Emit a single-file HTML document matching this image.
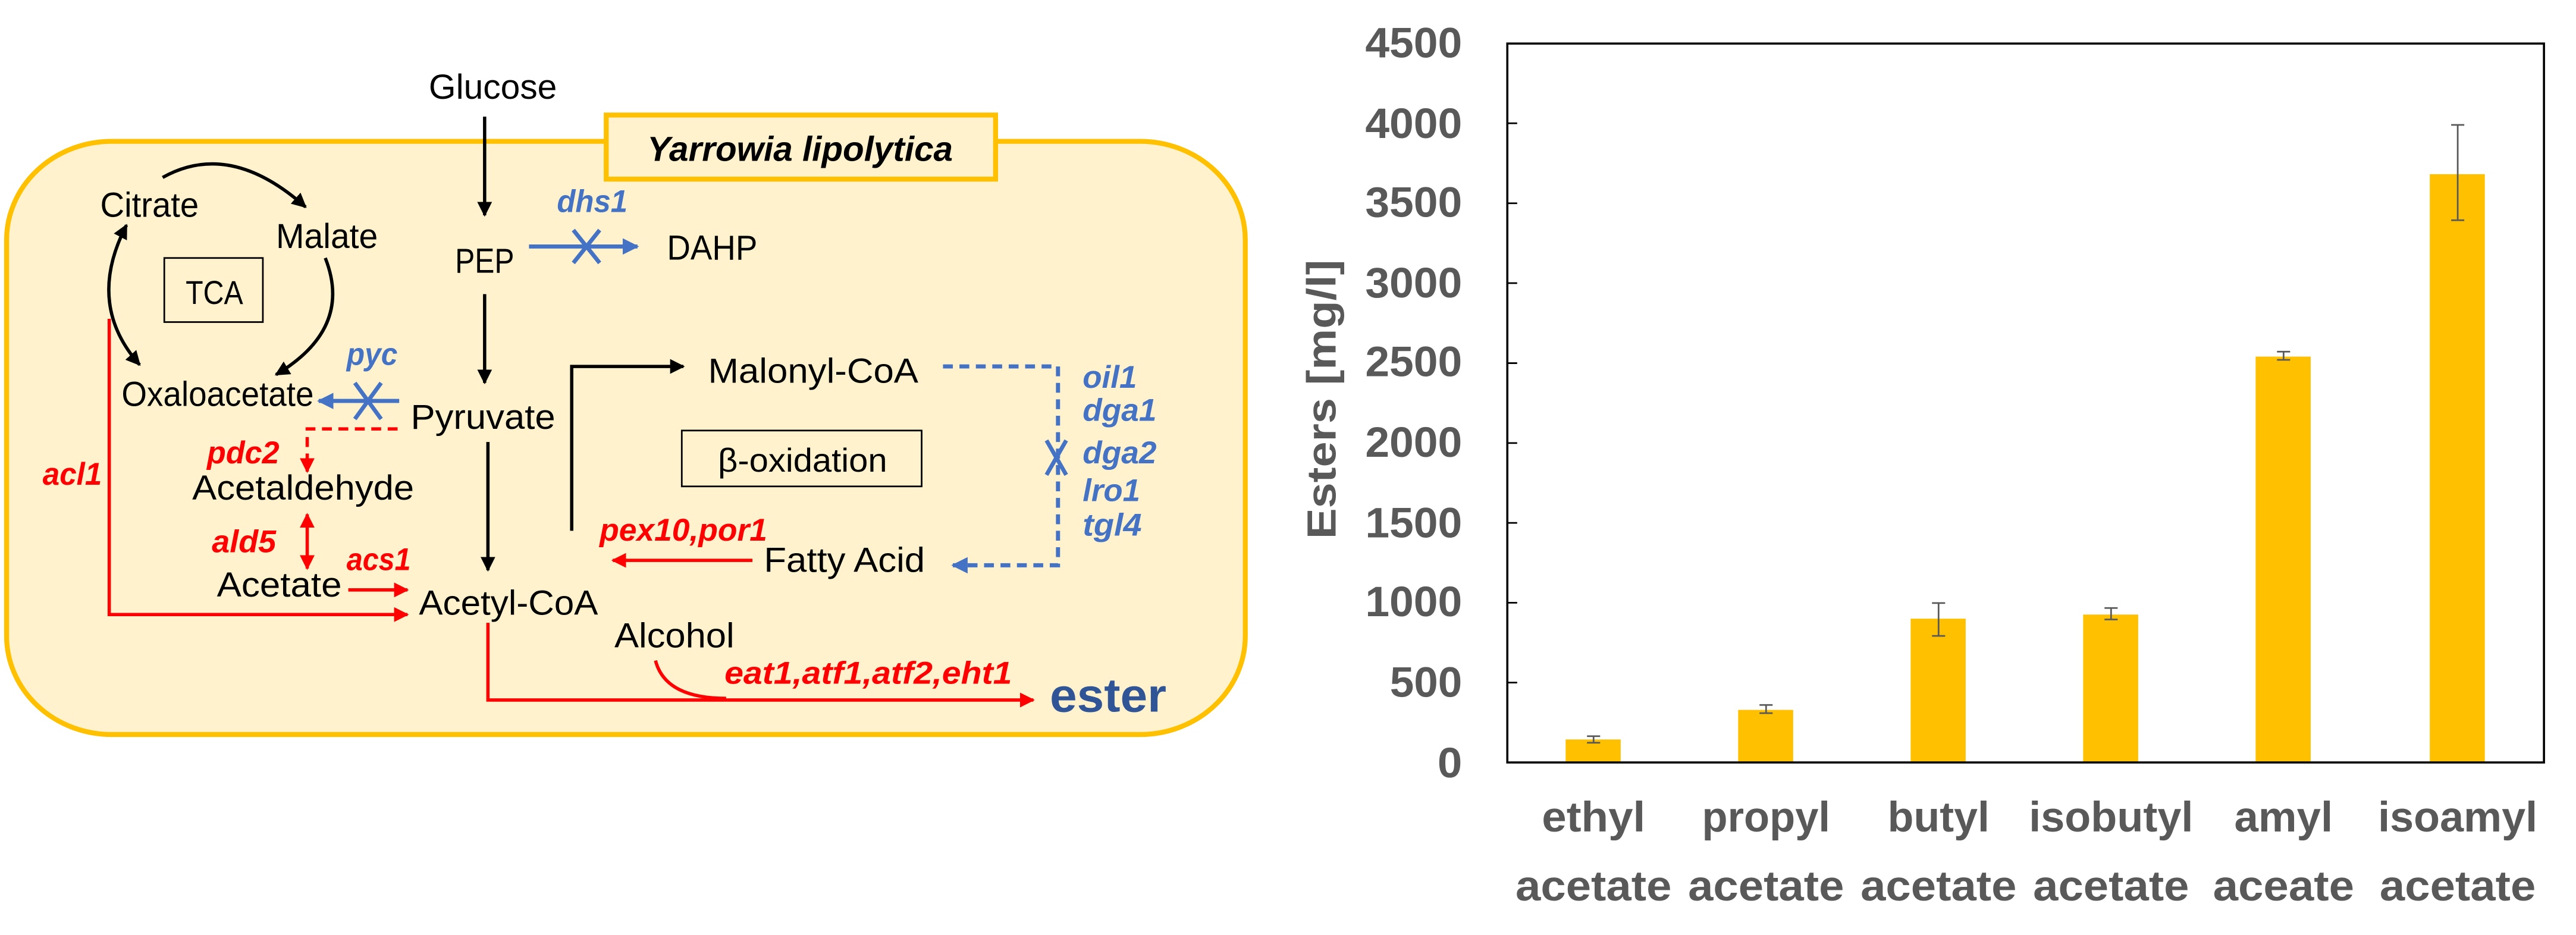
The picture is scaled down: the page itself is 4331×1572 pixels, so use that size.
<!DOCTYPE html>
<html><head><meta charset="utf-8"><style>html,body{margin:0;padding:0;background:#fff}svg{display:block}</style></head>
<body>
<svg width="4331" height="1572" viewBox="0 0 1568 569" preserveAspectRatio="none" xmlns="http://www.w3.org/2000/svg" font-family="Liberation Sans, sans-serif">
<defs>
<marker id="ak" viewBox="0 0 10 10" refX="9" refY="5" markerWidth="4.5" markerHeight="4.5" orient="auto-start-reverse"><path d="M0,0L10,5L0,10z" fill="#000"/></marker>
<marker id="ar" viewBox="0 0 10 10" refX="9" refY="5" markerWidth="4.5" markerHeight="4.5" orient="auto-start-reverse"><path d="M0,0L10,5L0,10z" fill="#f00"/></marker>
<marker id="ab" viewBox="0 0 10 10" refX="9" refY="5" markerWidth="4" markerHeight="4" orient="auto-start-reverse"><path d="M0,0L10,5L0,10z" fill="#4472C4"/></marker>
</defs>
<rect x="4" y="86" width="754" height="361" rx="64" ry="60" fill="#FFF2CC" stroke="#FFC000" stroke-width="3"/>
<rect x="369" y="70" width="237" height="39" fill="#FFF2CC" stroke="#FFC000" stroke-width="3"/>
<text x="487" y="98" text-anchor="middle" font-size="21" font-weight="bold" font-style="italic" textLength="186" lengthAdjust="spacingAndGlyphs">Yarrowia lipolytica</text>

<g font-size="21" fill="#000">
<text x="261" y="60" textLength="78" lengthAdjust="spacingAndGlyphs">Glucose</text>
<text x="277" y="166" textLength="36" lengthAdjust="spacingAndGlyphs">PEP</text>
<text x="406" y="158" textLength="55" lengthAdjust="spacingAndGlyphs">DAHP</text>
<text x="61" y="132" textLength="60" lengthAdjust="spacingAndGlyphs">Citrate</text>
<text x="168" y="151" textLength="62" lengthAdjust="spacingAndGlyphs">Malate</text>
<text x="74" y="247" textLength="117" lengthAdjust="spacingAndGlyphs">Oxaloacetate</text>
<text x="250" y="261" textLength="88" lengthAdjust="spacingAndGlyphs">Pyruvate</text>
<text x="117" y="304" textLength="135" lengthAdjust="spacingAndGlyphs">Acetaldehyde</text>
<text x="132" y="363" textLength="76" lengthAdjust="spacingAndGlyphs">Acetate</text>
<text x="255" y="374" textLength="109" lengthAdjust="spacingAndGlyphs">Acetyl-CoA</text>
<text x="431" y="233" textLength="128" lengthAdjust="spacingAndGlyphs">Malonyl-CoA</text>
<text x="465" y="348" textLength="98" lengthAdjust="spacingAndGlyphs">Fatty Acid</text>
<text x="374" y="394" textLength="73" lengthAdjust="spacingAndGlyphs">Alcohol</text>
</g>
<rect x="100" y="157" width="60" height="39" fill="none" stroke="#000" stroke-width="1"/>
<text x="113" y="185" font-size="20" textLength="35" lengthAdjust="spacingAndGlyphs">TCA</text>
<rect x="415" y="262" width="146" height="34" fill="none" stroke="#000" stroke-width="1"/>
<text x="437" y="287" font-size="20" textLength="103" lengthAdjust="spacingAndGlyphs">β-oxidation</text>

<g stroke="#000" stroke-width="2" fill="none">
<line x1="295" y1="71" x2="295" y2="131" marker-end="url(#ak)"/>
<line x1="295" y1="179" x2="295" y2="233" marker-end="url(#ak)"/>
<line x1="297" y1="269" x2="297" y2="347" marker-end="url(#ak)"/>
<polyline points="348,323 348,223 416,223" marker-end="url(#ak)"/>
<path d="M99,108 Q140,85 186,126" marker-end="url(#ak)"/>
<path d="M198,157 Q215,200 168,228" marker-end="url(#ak)"/>
<path d="M77,137 Q52,185 85,222" marker-start="url(#ak)" marker-end="url(#ak)"/>
</g>
<g stroke="#4472C4" stroke-width="2.5" fill="none">
<line x1="322" y1="150" x2="388" y2="150" marker-end="url(#ab)"/>
<line x1="349" y1="140" x2="365" y2="160"/><line x1="365" y1="140" x2="349" y2="160"/>
<line x1="243" y1="244" x2="194" y2="244" marker-end="url(#ab)"/>
<line x1="216" y1="233" x2="232" y2="255"/><line x1="232" y1="233" x2="216" y2="255"/>
<polyline points="574,223 644,223 644,344 580,344" stroke-dasharray="6,4" marker-end="url(#ab)"/>
<line x1="637" y1="268" x2="649" y2="289"/><line x1="649" y1="268" x2="637" y2="289"/>
</g>
<g font-size="19" font-weight="bold" font-style="italic" fill="#4472C4">
<text x="339" y="129" textLength="43" lengthAdjust="spacingAndGlyphs">dhs1</text>
<text x="211" y="222" textLength="31" lengthAdjust="spacingAndGlyphs">pyc</text>
<text x="659" y="236" textLength="33" lengthAdjust="spacingAndGlyphs">oil1</text>
<text x="659" y="256" textLength="45" lengthAdjust="spacingAndGlyphs">dga1</text>
<text x="659" y="282" textLength="45" lengthAdjust="spacingAndGlyphs">dga2</text>
<text x="659" y="305" textLength="35" lengthAdjust="spacingAndGlyphs">lro1</text>
<text x="659" y="326" textLength="36" lengthAdjust="spacingAndGlyphs">tgl4</text>
</g>
<g stroke="#f00" stroke-width="2" fill="none">
<polyline points="242,261 187,261 187,287" stroke-dasharray="6,4" marker-end="url(#ar)"/>
<line x1="187" y1="313" x2="187" y2="346" marker-start="url(#ar)" marker-end="url(#ar)"/>
<line x1="212" y1="359" x2="248" y2="359" marker-end="url(#ar)"/>
<polyline points="66.5,194 66.5,374 248,374" marker-end="url(#ar)"/>
<line x1="458" y1="341" x2="373" y2="341" marker-end="url(#ar)"/>
<polyline points="297,379 297,426 629,426" marker-end="url(#ar)"/>
<path d="M399,402 Q405,425 442,425"/>
</g>
<g font-size="19" font-weight="bold" font-style="italic" fill="#f00">
<text x="126" y="282" textLength="44" lengthAdjust="spacingAndGlyphs">pdc2</text>
<text x="26" y="295" textLength="36" lengthAdjust="spacingAndGlyphs">acl1</text>
<text x="129" y="336" textLength="39" lengthAdjust="spacingAndGlyphs">ald5</text>
<text x="211" y="347" textLength="39" lengthAdjust="spacingAndGlyphs">acs1</text>
<text x="365" y="329" textLength="102" lengthAdjust="spacingAndGlyphs">pex10,por1</text>
<text x="441" y="416" textLength="175" lengthAdjust="spacingAndGlyphs">eat1,atf1,atf2,eht1</text>
</g>
<text x="639" y="433" font-size="29" font-weight="bold" fill="#2F5597" textLength="71" lengthAdjust="spacingAndGlyphs">ester</text>

<g fill="#FFC000">
<rect x="953" y="450" width="33.5" height="14"/>
<rect x="1058" y="432" width="33.5" height="32"/>
<rect x="1163" y="376.5" width="33.5" height="87.5"/>
<rect x="1268" y="374" width="33.5" height="90"/>
<rect x="1373" y="217" width="33.5" height="247"/>
<rect x="1479" y="106" width="33.5" height="358"/>
</g>
<g stroke="#595959" stroke-width="1" fill="none">
<path d="M970,448v4M966,448h8M966,452h8"/>
<path d="M1075,429v5M1071,429h8M1071,434h8"/>
<path d="M1180,367v20M1176,367h8M1176,387h8"/>
<path d="M1285,370v7M1281,370h8M1281,377h8"/>
<path d="M1390,214v5M1386,214h8M1386,219h8"/>
<path d="M1496,76v58M1492,76h8M1492,134h8"/>
</g>
<rect x="917.5" y="26.5" width="631" height="437.5" fill="none" stroke="#000" stroke-width="1.3"/>
<g stroke="#000" stroke-width="1">
<path d="M917.5,75h6M917.5,123.7h6M917.5,172.3h6M917.5,221h6M917.5,269.6h6M917.5,318.2h6M917.5,366.8h6M917.5,415.4h6"/>
</g>
<g font-size="26" font-weight="bold" fill="#595959" text-anchor="end">
<text x="890" y="35" textLength="59" lengthAdjust="spacingAndGlyphs">4500</text>
<text x="890" y="84" textLength="59" lengthAdjust="spacingAndGlyphs">4000</text>
<text x="890" y="132" textLength="59" lengthAdjust="spacingAndGlyphs">3500</text>
<text x="890" y="181" textLength="59" lengthAdjust="spacingAndGlyphs">3000</text>
<text x="890" y="229" textLength="59" lengthAdjust="spacingAndGlyphs">2500</text>
<text x="890" y="278" textLength="59" lengthAdjust="spacingAndGlyphs">2000</text>
<text x="890" y="327" textLength="59" lengthAdjust="spacingAndGlyphs">1500</text>
<text x="890" y="375" textLength="59" lengthAdjust="spacingAndGlyphs">1000</text>
<text x="890" y="424" textLength="44" lengthAdjust="spacingAndGlyphs">500</text>
<text x="890" y="473" textLength="15" lengthAdjust="spacingAndGlyphs">0</text>
</g>
<text transform="translate(813,243) rotate(-90)" text-anchor="middle" font-size="25" font-weight="bold" fill="#595959" textLength="170" lengthAdjust="spacingAndGlyphs">Esters [mg/l]</text>
<g font-size="26" font-weight="bold" fill="#595959" text-anchor="middle">
<text x="970" y="506" textLength="63" lengthAdjust="spacingAndGlyphs">ethyl</text>
<text x="1075" y="506" textLength="78" lengthAdjust="spacingAndGlyphs">propyl</text>
<text x="1180" y="506" textLength="62" lengthAdjust="spacingAndGlyphs">butyl</text>
<text x="1285" y="506" textLength="100" lengthAdjust="spacingAndGlyphs">isobutyl</text>
<text x="1390" y="506" textLength="60" lengthAdjust="spacingAndGlyphs">amyl</text>
<text x="1496" y="506" textLength="97" lengthAdjust="spacingAndGlyphs">isoamyl</text>
<text x="970" y="548" textLength="95" lengthAdjust="spacingAndGlyphs">acetate</text>
<text x="1075" y="548" textLength="95" lengthAdjust="spacingAndGlyphs">acetate</text>
<text x="1180" y="548" textLength="95" lengthAdjust="spacingAndGlyphs">acetate</text>
<text x="1285" y="548" textLength="95" lengthAdjust="spacingAndGlyphs">acetate</text>
<text x="1390" y="548" textLength="86" lengthAdjust="spacingAndGlyphs">aceate</text>
<text x="1496" y="548" textLength="95" lengthAdjust="spacingAndGlyphs">acetate</text>
</g>
</svg>
</body></html>
